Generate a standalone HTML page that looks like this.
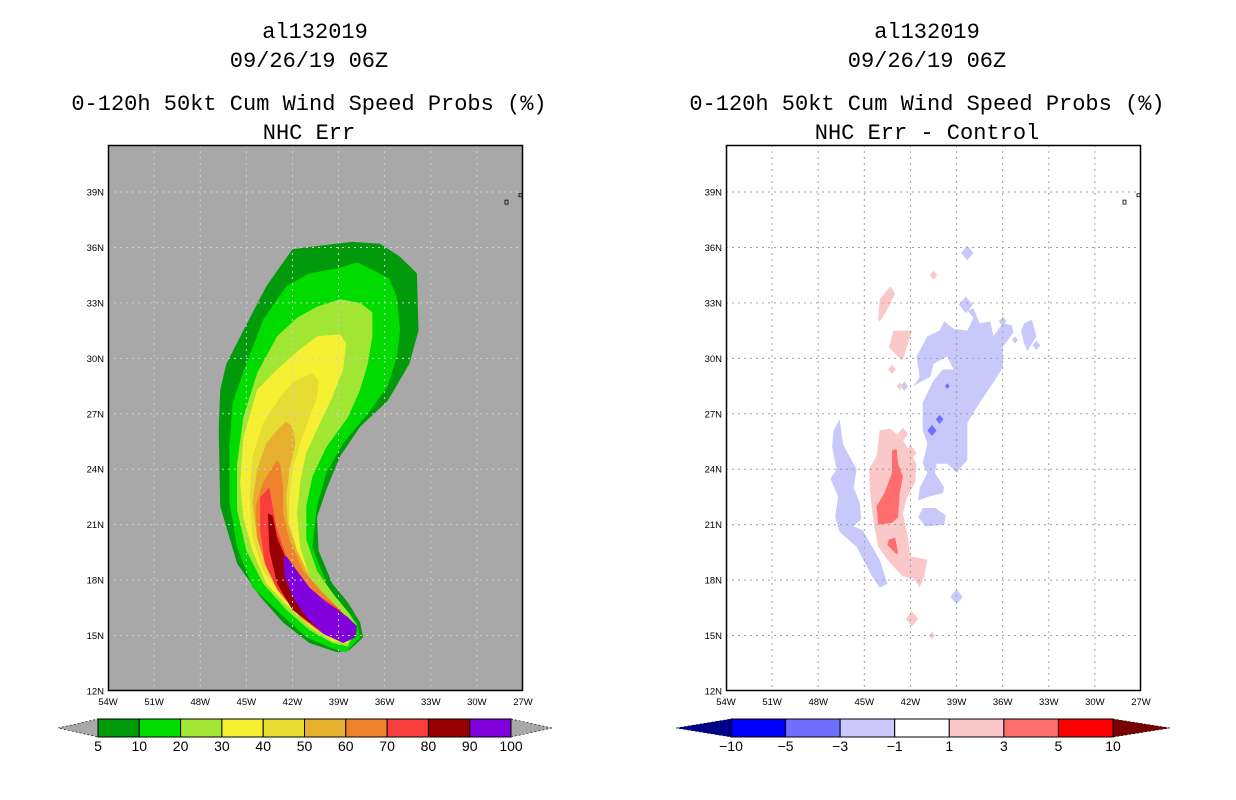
<!DOCTYPE html>
<html><head><meta charset="utf-8"><style>
html,body{margin:0;padding:0;background:#fff}
svg{display:block}
.t{font-family:"Liberation Mono",monospace;font-size:22px;fill:#000;text-anchor:middle}
.ax{font-family:"Liberation Sans",sans-serif;font-size:9.5px;fill:#000}
.cb{font-family:"Liberation Sans",sans-serif;font-size:14px;fill:#000;text-anchor:middle}
</style></head><body>
<svg id="fig" width="1236" height="800" viewBox="0 0 1236 800" xmlns="http://www.w3.org/2000/svg">
<rect width="1236" height="800" fill="#fff"/>
<g>
<text class="t" x="315" y="38">al132019</text>
<text class="t" x="309" y="67">09/26/19 06Z</text>
<text class="t" x="309" y="110">0-120h 50kt Cum Wind Speed Probs (%)</text>
<text class="t" x="309" y="139">NHC Err</text>
</g>
<g>
<text class="t" x="927" y="38">al132019</text>
<text class="t" x="927" y="67">09/26/19 06Z</text>
<text class="t" x="927" y="110">0-120h 50kt Cum Wind Speed Probs (%)</text>
<text class="t" x="927" y="139">NHC Err - Control</text>
</g>
<g id="left"></g>
<g id="right"></g>
<g id="cbl"></g>
<g id="cbr"></g>
</svg>
<script>
// ---- data ----
const latTicks=[12,15,18,21,24,27,30,33,36,39];
const lonTicks=[54,51,48,45,42,39,36,33,30,27];
const probLevels=[5,10,20,30,40,50,60,70,80,90,100];
const probColors=["#009a0a","#00dc00","#a0e632","#f5f032","#e6dc32","#e6af2d","#f0822d","#fa3c3c","#960000","#8200dc"];
const diffLevels=[-10,-5,-3,-1,1,3,5,10];
const diffColors=["#0000ff","#6e6eff","#c8c8fa","#ffffff","#fac8c8","#ff6e6e","#ff0000"];
// contour polygons [lonW, latN]
const p5=[[42.0,35.9],[40.2,36.1],[38.1,36.3],[36.3,36.2],[35.0,35.5],[33.9,34.6],[33.8,31.5],[34.4,29.7],[35.8,27.7],[37.6,26.3],[38.9,24.7],[39.8,22.9],[40.4,21.4],[40.3,19.6],[39.4,17.8],[38.4,16.8],[37.6,15.7],[37.4,14.9],[38.3,14.2],[39.1,14.1],[40.9,14.6],[42.6,15.7],[44.1,17.1],[45.6,18.9],[46.7,22.0],[46.8,26.1],[46.7,28.3],[46.3,29.7],[45.2,31.5],[43.7,33.9]];
const p10=[[42.4,33.9],[40.9,34.6],[38.9,34.9],[37.8,35.2],[36.8,34.8],[35.7,34.3],[35.2,33.3],[35.0,31.5],[35.2,30.1],[35.8,28.5],[37.1,27.0],[38.7,25.4],[39.8,23.8],[40.4,22.0],[40.7,19.8],[39.8,17.8],[38.7,16.5],[37.8,15.7],[37.6,14.9],[38.5,14.1],[39.4,14.3],[41.1,14.9],[42.8,16.2],[44.6,17.6],[45.6,19.8],[46.1,22.2],[46.1,25.2],[45.9,27.6],[45.0,29.7],[43.9,32.1]];
const p20=[[41.7,32.2],[40.4,32.8],[38.9,33.2],[37.6,33.0],[36.8,32.5],[36.8,31.2],[37.1,29.7],[37.6,28.3],[38.4,26.8],[39.8,25.2],[40.7,23.6],[41.1,22.0],[41.1,20.2],[40.4,18.5],[39.4,17.3],[38.3,16.2],[37.8,15.5],[38.4,14.4],[39.4,14.6],[40.9,15.3],[42.4,16.4],[43.9,17.8],[45.0,19.6],[45.6,21.8],[45.6,24.3],[45.2,26.8],[44.3,29.2],[43.0,31.2]];
const p30=[[41.5,30.5],[40.4,31.2],[38.9,31.3],[38.5,30.8],[38.7,29.4],[39.4,27.9],[40.2,26.5],[41.1,24.9],[41.5,23.3],[41.7,21.6],[41.5,19.8],[40.9,18.2],[39.8,17.1],[38.7,16.2],[38.1,15.5],[38.4,14.6],[39.4,14.7],[40.9,15.5],[42.2,16.5],[43.7,17.8],[44.6,19.6],[45.2,21.4],[45.4,23.3],[45.2,25.7],[44.3,28.3],[43.0,29.4]];
const p40=[[42.0,28.7],[40.7,29.2],[40.3,28.8],[40.4,27.9],[40.9,26.8],[41.5,25.4],[42.0,24.0],[42.2,22.5],[42.2,21.1],[41.7,19.6],[40.9,18.2],[39.8,17.1],[38.7,16.2],[38.1,15.4],[38.7,14.6],[39.8,14.9],[41.3,15.8],[42.6,17.1],[43.9,18.5],[44.6,20.3],[44.8,22.5],[44.6,24.7],[43.9,26.5],[42.8,27.9]];
const p50=[[43.0,26.1],[42.4,26.6],[42.0,26.3],[41.8,25.4],[42.2,24.0],[42.4,22.5],[42.3,21.1],[41.7,19.6],[40.9,18.2],[39.8,17.1],[38.7,16.2],[38.3,15.3],[38.8,14.7],[39.8,15.0],[41.3,16.0],[42.6,17.3],[43.7,18.7],[44.3,20.3],[44.6,22.2],[44.3,24.0],[43.7,25.4]];
const p60=[[43.9,23.3],[43.0,24.5],[42.8,24.3],[42.6,23.0],[42.6,21.6],[42.2,20.2],[41.3,18.5],[40.0,17.3],[38.9,16.4],[38.4,15.3],[38.9,14.7],[40.0,15.1],[41.5,16.0],[42.8,17.3],[43.7,18.7],[44.3,20.3],[44.4,22.0]];
const p70=[[44.1,22.5],[43.5,23.0],[43.3,22.0],[43.0,20.7],[42.4,19.3],[41.5,18.0],[40.2,17.1],[38.9,16.4],[38.4,15.3],[39.0,14.8],[40.2,15.2],[41.7,16.2],[43.0,17.5],[43.8,18.9],[44.1,20.7]];
const p80=[[43.6,21.6],[43.3,21.5],[43.0,20.3],[42.4,19.1],[41.3,17.8],[40.0,16.9],[38.7,16.2],[38.4,15.3],[39.1,14.9],[40.4,15.4],[42.0,16.4],[43.0,17.8],[43.5,19.6]];
const p90=[[42.6,19.2],[42.4,19.3],[41.7,18.5],[40.9,17.6],[39.8,16.8],[38.4,16.0],[37.8,15.5],[37.9,14.9],[38.7,14.6],[40.0,15.1],[41.1,16.0],[42.0,17.1],[42.5,18.2]];
const probPolys=[p5,p10,p20,p30,p40,p50,p60,p70,p80,p90];
// difference field
const nBig=[[41.8,28.5],[41.4,29.0],[41.6,30.1],[40.9,31.2],[40.1,31.5],[39.8,32.0],[39.2,31.6],[38.3,31.5],[37.9,32.2],[38.3,32.6],[37.9,32.7],[37.5,31.9],[36.8,32.0],[36.6,31.2],[36.0,31.9],[35.4,31.8],[35.3,31.4],[36.0,30.6],[36.0,29.5],[36.6,28.7],[37.5,27.6],[38.3,26.5],[38.3,25.2],[38.3,24.5],[39.0,23.8],[39.6,24.3],[40.3,24.3],[40.4,23.8],[39.8,23.0],[39.9,22.7],[40.9,22.5],[41.5,22.3],[41.4,23.0],[40.9,23.8],[41.2,24.3],[40.9,25.4],[41.2,26.1],[41.2,27.6],[40.5,28.8],[39.9,29.4],[39.2,29.4],[39.6,30.1],[40.5,29.7],[40.7,29.0],[41.4,28.7]];
const nSmall=[[41.5,21.4],[41.0,20.9],[39.8,21.0],[39.7,21.5],[40.4,21.9],[41.2,21.9]];
const nStrip=[[46.6,26.7],[46.4,25.4],[46.1,24.9],[45.5,24.0],[45.7,23.0],[45.3,22.2],[45.2,21.3],[45.7,20.9],[45.1,20.7],[44.0,19.1],[43.5,17.8],[44.0,17.6],[44.5,18.2],[45.5,19.8],[46.6,20.6],[46.9,21.4],[46.7,22.5],[47.2,23.5],[46.8,24.0],[47.1,25.2],[47.0,26.1]];
const nNE=[[34.6,31.9],[34.1,32.1],[33.8,31.2],[34.4,30.4],[34.6,30.8],[34.8,31.5]];
const pMain=[[44.0,26.1],[43.3,26.2],[42.5,25.6],[41.6,24.3],[41.7,23.3],[42.2,22.5],[42.5,21.6],[42.2,20.5],[42.0,19.3],[40.9,19.1],[41.1,18.2],[41.4,17.6],[41.8,18.1],[42.5,18.2],[43.3,18.9],[44.1,19.8],[44.4,21.1],[44.6,22.5],[44.7,24.0],[44.2,24.7]];
const pN1=[[44.1,32.1],[44.0,33.2],[43.3,33.9],[43.0,33.5],[43.6,32.5],[44.0,32.0]];
const pN2=[[43.4,30.6],[43.1,31.5],[41.9,31.5],[42.5,29.9],[42.8,30.1]];
const rMain=[[43.2,25.0],[42.9,25.1],[42.8,24.3],[42.5,23.6],[42.7,22.7],[42.8,21.4],[43.2,21.1],[44.1,21.0],[44.2,22.0],[43.7,22.7],[43.2,23.8]];
const rSmall=[[43.4,20.2],[43.0,20.3],[42.8,19.5],[42.9,19.4],[43.5,19.9]];
// small blobs: [lonW, latN, size in degrees]
const blueBlobs=[[38.3,35.7,0.4],[36.0,32.0,0.25],[38.4,32.9,0.45],[39.0,17.1,0.4],[42.4,28.5,0.25],[35.2,31.0,0.2],[33.8,30.7,0.25]];
const pinkBlobs=[[42.5,25.9,0.35],[42.0,24.9,0.4],[40.5,34.5,0.25],[43.2,29.4,0.25],[42.7,28.5,0.2],[41.9,15.9,0.4],[40.6,15.0,0.2]];
const darkBlueBlobs=[[40.1,26.7,0.25],[40.6,26.1,0.3],[39.6,28.5,0.15]];

// ---- axes ----
const NS="http://www.w3.org/2000/svg";
const PX0=108, PW=415, PY0=145, PH=546;
function xAxis(lon,off){return PX0+off+(54-lon)*(PW/27);}
function yAxis(lat){return 691-(lat-12)*18.48;}
function mk(tag,attrs,parent){const e=document.createElementNS(NS,tag);for(const k in attrs)e.setAttribute(k,attrs[k]);parent.appendChild(e);return e;}
function pts(poly,off){return poly.map(p=>xAxis(p[0],off).toFixed(1)+","+yAxis(p[1]).toFixed(1)).join(" ");}

function panel(g,off,bg,grid){
  const r=mk('rect',{x:PX0+off,y:PY0,width:PW,height:PH,fill:bg},g);
  
  
  return r;
}
function gridAndAxes(g,off,gridColor){
  lonTicks.forEach(lon=>{
    const x=xAxis(lon,off);
    if(lon<54&&lon>27){
      const l=mk('line',{x1:x,y1:PY0,x2:x,y2:PY0+PH,stroke:gridColor,'stroke-width':1,'stroke-dasharray':'2,4'},g);
      
      
    }
    const t=mk('text',{x:x,y:705,'text-anchor':'middle',class:'ax'},g);
    
    
    t.textContent=lon+"W";
  });
  latTicks.forEach(lat=>{
    const y=yAxis(lat);
    if(lat>12){
      const l=mk('line',{x1:PX0+off,y1:y,x2:PX0+off+PW,y2:y,stroke:gridColor,'stroke-width':1,'stroke-dasharray':'2,4'},g);
      
      
    }
    const t=mk('text',{x:PX0+off-4,y:y+3.5,'text-anchor':'end',class:'ax'},g);
    
    
    t.textContent=lat+"N";
  });
  const fr=mk('rect',{x:PX0+off+0.5,y:PY0+0.5,width:PW-1,height:PH-1,fill:'none',stroke:'#000','stroke-width':1.5},g);
  
  
  const isl=mk('path',{d:`M${PX0+off+397} ${yAxis(38.4)-3}h3v4h-3zM${PX0+off+411} ${yAxis(38.8)-2}h3v3h-3z`,fill:'none',stroke:'#000','stroke-width':0.8},g);
  
  
}
function poly(g,data,off,fill,name){
  const p=mk('polygon',{points:pts(data,off),fill:fill},g);
  
  
}
function blob(g,b,off,fill,name){
  const d=[[b[0]-b[2],b[1]],[b[0],b[1]+b[2]],[b[0]+b[2],b[1]],[b[0],b[1]-b[2]]];
  poly(g,d,off,fill,name);
}

// left panel
const L=document.getElementById('left');
panel(L,0,'#a8a8a8');
probPolys.forEach((pp,i)=>poly(L,pp,0,probColors[i],'prob-contour-'+probLevels[i]));
gridAndAxes(L,0,'#cfcfcf');

// right panel
const R=document.getElementById('right');
const OFF=618;
panel(R,OFF,'#ffffff');
[nBig,nSmall,nStrip,nNE].forEach(d=>poly(R,d,OFF,diffColors[2],'negative-diff-region'));
blueBlobs.forEach(b=>blob(R,b,OFF,diffColors[2],'negative-diff-spot'));
[pMain,pN1,pN2].forEach(d=>poly(R,d,OFF,diffColors[4],'positive-diff-region'));
pinkBlobs.forEach(b=>blob(R,b,OFF,diffColors[4],'positive-diff-spot'));
[rMain,rSmall].forEach(d=>poly(R,d,OFF,diffColors[5],'positive-diff-core'));
darkBlueBlobs.forEach(b=>blob(R,b,OFF,diffColors[1],'negative-diff-core'));
gridAndAxes(R,OFF,'#a0a0a0');

// colorbars
function colorbar(g,x0,x1,tipL,tipR,levels,colors,cl,cr){
  const y0=719,y1=737,ym=728;
  const n=colors.length, w=(x1-x0)/n;
  const a=mk('polygon',{points:`${tipL},${ym} ${x0},${y0} ${x0},${y1}`,fill:cl,stroke:'#000','stroke-width':0.6,'stroke-dasharray':'2,2'},g);
  
  
  const b=mk('polygon',{points:`${tipR},${ym} ${x1},${y0} ${x1},${y1}`,fill:cr,stroke:'#000','stroke-width':0.6,'stroke-dasharray':'2,2'},g);
  
  
  colors.forEach((c,i)=>{
    const r=mk('rect',{x:x0+i*w,y:y0,width:w,height:y1-y0,fill:c,stroke:'#000','stroke-width':1},g);
    
    
  });
  levels.forEach((v,i)=>{
    const t=mk('text',{x:x0+i*w,y:751,class:'cb'},g);
    
    
    t.textContent=v<0?"\u2212"+(-v):v;
  });
}
colorbar(document.getElementById('cbl'),98,511,58,552,probLevels,probColors,'#a8a8a8','#a8a8a8');
colorbar(document.getElementById('cbr'),731,1113,676,1170,diffLevels,diffColors,'#00008b','#780000');
</script>
</body></html>
